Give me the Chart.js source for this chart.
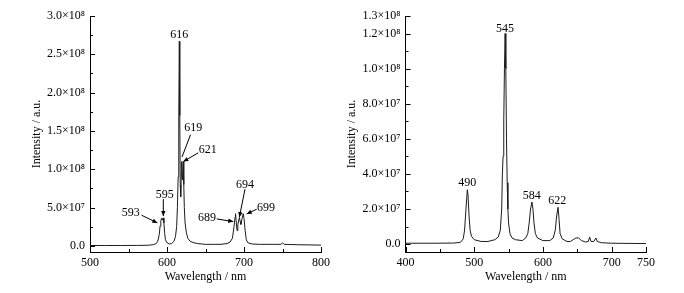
<!DOCTYPE html>
<html>
<head>
<meta charset="utf-8">
<script src="https://cdn.jsdelivr.net/npm/chart.js@4"></script>
<style>
    html, body { margin: 0; padding: 0; background: #fff; }
    #wrap { position: relative; width: 684px; height: 293px; }
    .panel { position: absolute; top: 0; width: 342px; height: 293px; }
</style>
</head>
<body>
<div id="wrap">
    <div class="panel" style="left:0"><canvas id="euChart" width="342" height="293"></canvas></div>
    <div class="panel" style="left:342px"><canvas id="tbChart" width="342" height="293"></canvas></div>
</div>
<script>
// Left spectrum (Eu emission), wavelength in nm and intensity in a.u.
const euWavelength = [500, 520, 540, 560, 575, 582, 586, 588, 590, 591, 592, 593, 594, 595, 596, 597, 598, 600, 603, 606, 609, 611,
    612.5, 613.5, 614.5, 615.3, 616, 616.6, 617.2, 617.8, 618.5, 619, 619.8, 620.3, 621, 621.8, 622.5, 623.5, 625, 627, 630,
    635, 640, 650, 660, 670, 678, 682, 685, 687, 688.5, 689, 690, 691, 692, 694, 695, 696, 697.5, 699, 700, 701.5, 703, 705,
    710, 720, 740, 748, 750, 752, 770, 800];
const euIntensity = [0.05e7, 0.05e7, 0.05e7, 0.06e7, 0.08e7, 0.15e7, 0.3e7, 0.6e7, 1.5e7, 2.6e7, 3.3e7, 3.6e7, 3.35e7, 3.65e7, 3.0e7, 1.6e7, 0.8e7, 0.4e7, 0.25e7, 0.3e7, 0.6e7, 1.2e7,
    2.5e7, 5e7, 9e7, 17e7, 26.7e7, 17e7, 8e7, 6.4e7, 9e7, 11e7, 9e7, 8.6e7, 11e7, 8e7, 5e7, 3e7, 1.8e7, 1.0e7, 0.6e7,
    0.4e7, 0.3e7, 0.2e7, 0.2e7, 0.2e7, 0.3e7, 0.5e7, 1.0e7, 2.5e7, 3.8e7, 4.2e7, 3.0e7, 2.0e7, 2.8e7, 3.7e7, 3.2e7, 2.8e7, 3.6e7, 4.2e7, 3.6e7, 2.0e7, 0.8e7, 0.4e7,
    0.25e7, 0.2e7, 0.2e7, 0.2e7, 0.4e7, 0.2e7, 0.15e7, 0.1e7];

// Right spectrum (Tb emission)
const tbWavelength = [400, 440, 470, 480, 484, 486, 488, 490, 491, 492.5, 494, 496, 500, 510, 520, 530, 535, 538, 540, 541, 542,
    543, 544, 545, 546, 547, 548, 549, 550, 552, 555, 560, 570, 575, 578, 580, 582, 584, 585.5, 587, 589, 592, 600, 610,
    615, 618, 620, 622, 623.5, 625, 628, 635, 640, 644, 648, 652, 656, 662, 666, 668, 670, 674, 677, 679, 685, 700, 750];
const tbIntensity = [0.05e7, 0.05e7, 0.06e7, 0.1e7, 0.3e7, 0.8e7, 2.0e7, 3.1e7, 2.8e7, 1.6e7, 0.8e7, 0.45e7, 0.25e7, 0.15e7, 0.15e7, 0.25e7, 0.4e7, 0.8e7, 2e7, 4e7, 5e7,
    7e7, 10e7, 12e7, 10e7, 6e7, 3.5e7, 2e7, 1.2e7, 0.6e7, 0.35e7, 0.25e7, 0.2e7, 0.35e7, 0.6e7, 1.2e7, 2.0e7, 2.4e7, 2.0e7, 1.2e7, 0.6e7, 0.35e7, 0.2e7, 0.2e7,
    0.35e7, 0.8e7, 1.6e7, 2.1e7, 1.4e7, 0.6e7, 0.3e7, 0.15e7, 0.15e7, 0.25e7, 0.35e7, 0.35e7, 0.2e7, 0.12e7, 0.15e7, 0.4e7, 0.15e7, 0.15e7, 0.35e7, 0.15e7, 0.08e7, 0.05e7, 0.03e7];

// Axis ticks
const euXTicks = [500, 600, 700, 800];
const euXMinor = [550, 650, 750];
const euYTicks = [0, 5e7, 1e8, 1.5e8, 2e8, 2.5e8, 3e8];
const euYLabels = ["0.0", "5.0×10⁷", "1.0×10⁸", "1.5×10⁸", "2.0×10⁸", "2.5×10⁸", "3.0×10⁸"];
const euYMinor = [2.5e7, 7.5e7, 1.25e8, 1.75e8, 2.25e8, 2.75e8];

const tbXTicks = [400, 500, 600, 700, 750];
const tbXMinor = [450, 550, 650];
const tbYTicks = [0, 2e7, 4e7, 6e7, 8e7, 1e8, 1.2e8, 1.3e8];
const tbYLabels = ["0.0", "2.0×10⁷", "4.0×10⁷", "6.0×10⁷", "8.0×10⁷", "1.0×10⁸", "1.2×10⁸", "1.3×10⁸"];
const tbYMinor = [1e7, 3e7, 5e7, 7e7, 9e7, 1.1e8];

// Peak labels
const euPeaks = ["593", "595", "616", "619", "621", "689", "694", "699"];
const tbPeaks = ["490", "545", "584", "622"];

// where each peak label sits and where its arrow points (nm, a.u.)
const euNotes = [
    { text: [553, 0.43e8], from: [567, 0.40e8], to: [587.5, 0.30e8], head: true },
    { text: [597, 0.665e8], from: [595.2, 0.61e8], to: [595.2, 0.39e8], head: true },
    { text: [616, 2.75e8] },
    { text: [634, 1.54e8], from: [630.5, 1.45e8], to: [619.5, 1.16e8], head: false },
    { text: [653, 1.25e8], from: [640.6, 1.215e8], to: [621.2, 1.10e8], head: true },
    { text: [652, 0.36e8], from: [664.5, 0.352e8], to: [686, 0.317e8], head: true },
    { text: [701.3, 0.80e8], from: [701.3, 0.74e8], to: [694, 0.375e8], head: true },
    { text: [728.6, 0.49e8], from: [716.5, 0.478e8], to: [703.5, 0.417e8], head: true }
];
const tbNotes = [
    { text: [490, 0.347e8] },
    { text: [544.8, 1.229e8] },
    { text: [583.7, 0.276e8] },
    { text: [621, 0.246e8] }
];

const FONT = "'Liberation Serif', 'Times New Roman', serif";

// inward tick marks, peak labels and arrows
const decorPlugin = {
    id: "decor",
    afterDraw(chart, args, opts) {
        const ctx = chart.ctx;
        const xs = chart.scales.x;
        const ys = chart.scales.y;
        const area = chart.chartArea;
        ctx.save();
        ctx.strokeStyle = "#000";
        ctx.lineWidth = 1;
        ctx.beginPath();
        const tickX = (v, len) => {
            const px = Math.round(xs.getPixelForValue(v)) + 0.5;
            ctx.moveTo(px, area.bottom);
            ctx.lineTo(px, area.bottom - len);
        };
        const tickY = (v, len) => {
            const py = Math.round(ys.getPixelForValue(v)) + 0.5;
            ctx.moveTo(area.left, py);
            ctx.lineTo(area.left + len, py);
        };
        opts.xTicks.forEach(v => tickX(v, 5));
        opts.xMinor.forEach(v => tickX(v, 3));
        opts.yTicks.forEach(v => tickY(v, 5));
        opts.yMinor.forEach(v => tickY(v, 3));
        ctx.stroke();

        ctx.font = "12px " + FONT;
        ctx.fillStyle = "#000";
        ctx.textAlign = "center";
        ctx.textBaseline = "middle";
        opts.notes.forEach((n, i) => {
            const tx = xs.getPixelForValue(n.text[0]);
            const ty = ys.getPixelForValue(n.text[1]);
            ctx.fillText(opts.labels[i], tx, ty);
            if (!n.from) return;
            const x1 = xs.getPixelForValue(n.from[0]);
            const y1 = ys.getPixelForValue(n.from[1]);
            const x2 = xs.getPixelForValue(n.to[0]);
            const y2 = ys.getPixelForValue(n.to[1]);
            ctx.beginPath();
            ctx.moveTo(x1, y1);
            ctx.lineTo(x2, y2);
            ctx.stroke();
            if (n.head) {
                const a = Math.atan2(y2 - y1, x2 - x1);
                const hl = 5, hw = 2.2;
                ctx.beginPath();
                ctx.moveTo(x2, y2);
                ctx.lineTo(x2 - hl * Math.cos(a) + hw * Math.sin(a), y2 - hl * Math.sin(a) - hw * Math.cos(a));
                ctx.lineTo(x2 - hl * Math.cos(a) - hw * Math.sin(a), y2 - hl * Math.sin(a) + hw * Math.cos(a));
                ctx.closePath();
                ctx.fill();
            }
        });
        ctx.restore();
    }
};

function makeSpectrum(canvasId, cfg) {
    const ctx = document.getElementById(canvasId).getContext("2d");
    const points = cfg.wl.map((w, i) => ({ x: w, y: cfg.intensity[i] }));
    const tickFont = { family: FONT, size: 12 };

    return new Chart(ctx, {
        type: "line",
        data: {
            datasets: [{
                data: points,
                borderColor: "#1c1c1c",
                borderWidth: 1,
                pointRadius: 0,
                tension: 0,
                fill: false
            }]
        },
        options: {
            responsive: false,
            animation: false,
            devicePixelRatio: 1,
            layout: { padding: { top: 16, right: cfg.padRight, left: 0, bottom: 0 } },
            plugins: {
                legend: { display: false },
                tooltip: { enabled: false },
                decor: {
                    xTicks: cfg.xTicks, xMinor: cfg.xMinor,
                    yTicks: cfg.yTicks, yMinor: cfg.yMinor,
                    labels: cfg.peaks, notes: cfg.notes
                }
            },
            scales: {
                x: {
                    type: "linear",
                    min: cfg.xMin,
                    max: cfg.xMax,
                    afterBuildTicks: s => { s.ticks = cfg.xTicks.map(v => ({ value: v })); },
                    afterFit: s => { s.height = 41; },
                    grid: { display: false, drawTicks: false },
                    border: { display: true, color: "#000", width: 1 },
                    ticks: {
                        font: tickFont, color: "#000", padding: 4,
                        maxRotation: 0, autoSkip: false,
                        callback: v => String(v)
                    },
                    title: {
                        display: true, text: "Wavelength / nm",
                        font: tickFont, color: "#000",
                        padding: { top: 0, bottom: 9 }
                    }
                },
                y: {
                    min: cfg.yMin,
                    max: cfg.yMax,
                    afterBuildTicks: s => { s.ticks = cfg.yTicks.map(v => ({ value: v })); },
                    afterFit: s => { s.width = cfg.yWidth; },
                    grid: { display: false, drawTicks: false },
                    border: { display: true, color: "#000", width: 1 },
                    ticks: {
                        font: tickFont, color: "#000", padding: 5,
                        autoSkip: false,
                        callback: (v) => cfg.yLabels[cfg.yTicks.indexOf(v)]
                    },
                    title: {
                        display: true, text: "Intensity / a.u.",
                        font: tickFont, color: "#000",
                        padding: { top: cfg.titlePad, bottom: 0 }
                    }
                }
            }
        },
        plugins: [decorPlugin]
    });
}

makeSpectrum("euChart", {
    wl: euWavelength, intensity: euIntensity,
    xMin: 500, xMax: 800, yMin: -0.08e8, yMax: 3e8,
    xTicks: euXTicks, xMinor: euXMinor,
    yTicks: euYTicks, yLabels: euYLabels, yMinor: euYMinor,
    peaks: euPeaks, notes: euNotes,
    yWidth: 90, padRight: 21, titlePad: 30
});

makeSpectrum("tbChart", {
    wl: tbWavelength, intensity: tbIntensity,
    xMin: 400, xMax: 750, yMin: -0.045e8, yMax: 1.3e8,
    xTicks: tbXTicks, xMinor: tbXMinor,
    yTicks: tbYTicks, yLabels: tbYLabels, yMinor: tbYMinor,
    peaks: tbPeaks, notes: tbNotes,
    yWidth: 63.5, padRight: 38, titlePad: 3
});
</script>
</body>
</html>
